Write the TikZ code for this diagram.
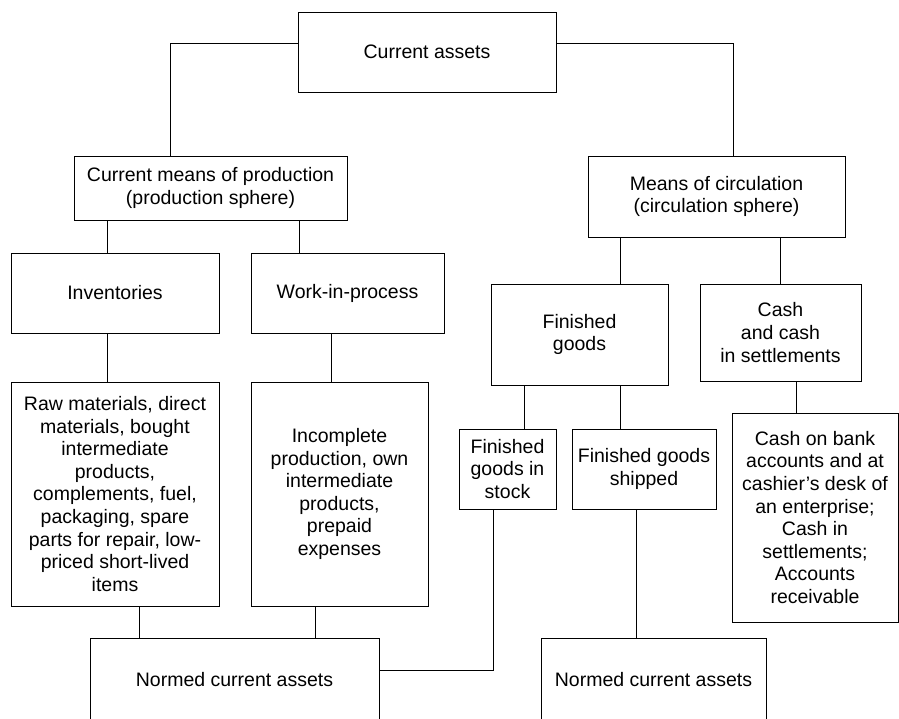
\documentclass[tikz,border=0pt]{standalone}
\usepackage{fontspec}
\setmainfont{Liberation Sans}
\usepackage{tikz}

\begin{document}
\begin{tikzpicture}[
        x=1pt, y=-1pt,
        block/.style={rectangle, draw=black, line width=1pt, inner sep=0pt, align=center, font=\fontsize{19.5}{22.6}\selectfont},
        link/.style={draw=black, line width=1pt}
    ]
    \clip (0,0) rectangle (899,718);

    % Top level
    \node[block, minimum width=258, minimum height=80] (ca) at (427,52) {Current assets};
    \node[block, minimum width=273, minimum height=64] (cmp) at (210.5,188) {Current means of production\\(production sphere)};
    \node[block, minimum width=257, minimum height=81] (moc) at (716.5,196.5) {Means of circulation\\(circulation sphere)};

    % Production sphere
    \node[block, minimum width=208, minimum height=80] (inv) at (115,293) {Inventories};
    \node[block, minimum width=193, minimum height=80] (wip) at (347.5,293) {Work-in-process};
    \node[block, minimum width=208, minimum height=224] (raw) at (115,494) {Raw materials, direct\\materials, bought\\intermediate\\products,\\complements, fuel,\\packaging, spare\\parts for repair, low-\\priced short-lived\\items};
    \node[block, minimum width=177, minimum height=224] (inc) at (339.5,494) {Incomplete\\production, own\\intermediate\\products,\\prepaid\\expenses};

    % Circulation sphere
    \node[block, minimum width=177, minimum height=101] (fg) at (579.5,334.5) {Finished\\goods};
    \node[block, minimum width=161, minimum height=97] (cash) at (780.5,332.5) {Cash\\and cash\\in settlements};
    \node[block, minimum width=97, minimum height=80] (stock) at (507.5,469) {Finished\\goods in\\stock};
    \node[block, minimum width=144, minimum height=80] (ship) at (644,469) {Finished goods\\shipped};
    \node[block, minimum width=166, minimum height=209] (bank) at (815,517.5) {Cash on bank\\accounts and at\\cashier’s desk of\\an enterprise;\\Cash in\\settlements;\\Accounts\\receivable};

    % Normed assets (cut off below)
    \node[block, minimum width=289, minimum height=84] (norm1) at (234.5,680) {Normed current assets};
    \node[block, minimum width=225, minimum height=84] (norm2) at (653.5,680) {Normed current assets};

    % Links
    \draw[link] ([yshift=9]ca.west) -| ([xshift=-40.5]cmp.north);
    \draw[link] ([yshift=9]ca.east) -| ([xshift=16.5]moc.north);
    \draw[link] ([xshift=-8]inv.north) |- (cmp.south);
    \draw[link] ([xshift=-48.5]wip.north) |- (cmp.south);
    \draw[link] ([xshift=-8]raw.north) |- (inv.south);
    \draw[link] ([xshift=-8.5]inc.north) |- (wip.south);
    \draw[link] ([xshift=-95.5]norm1.north) |- (raw.south);
    \draw[link] ([xshift=80.5]norm1.north) |- (inc.south);
    \draw[link] ([xshift=40.5]fg.north) |- (moc.south);
    \draw[link] (cash.north) |- (moc.south);
    \draw[link] ([xshift=16.5]stock.north) |- (fg.south);
    \draw[link] ([xshift=-24]ship.north) |- (fg.south);
    \draw[link] ([xshift=-19]bank.north) |- (cash.south);
    \draw[link] ([xshift=-17.5]norm2.north) |- (ship.south);
    \draw[link] ([xshift=-14.5]stock.south) |- ([yshift=10]norm1.east);
\end{tikzpicture}
\end{document}
